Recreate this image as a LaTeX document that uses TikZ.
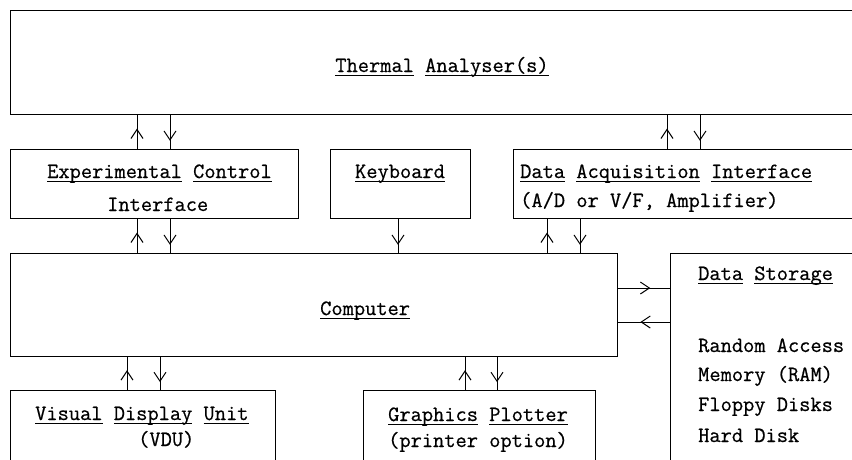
\documentclass[tikz,border=0pt]{standalone}
\usepackage{fontspec}
\newfontfamily\tw[FakeBold=0.6]{Latin Modern Mono}
\usetikzlibrary{arrows.meta,decorations.markings}
\newlength\ulwd
\newcommand\ulw[1]{\settowidth\ulwd{#1}\rlap{\rule[-4pt]{\ulwd}{1pt}}#1}
\tikzset{
  box/.style={draw, line width=1pt, inner sep=0pt, anchor=north west},
  lbl/.style={inner sep=0pt, anchor=base west, font=\tw\fontsize{21.8}{22}\selectfont},
  conn/.style={line width=1pt},
  tipmark/.style={postaction={decorate}, decoration={markings,
     mark=at position #1 with {\arrow{Straight Barb[length=9pt,width=12pt]}}}},
  uparr/.style={conn, tipmark=0.6},
  dnarr/.style={conn, tipmark=0.76},
  rtarr/.style={conn, tipmark=0.62},
  ltarr/.style={conn, tipmark=0.57},
}
\begin{document}
\begin{tikzpicture}[x=1pt,y=-1pt]
\useasboundingbox (0,0) rectangle (852,459);
\clip (0,0) rectangle (852,459);

% boxes
\node[box, minimum width=864pt, minimum height=104pt] (thermal) at (10,10) {};
\node[box, minimum width=288pt, minimum height=69pt] (eci) at (10,149) {};
\node[box, minimum width=140pt, minimum height=69pt] (kbd) at (330,149) {};
\node[box, minimum width=360pt, minimum height=69pt] (dai) at (513,149) {};
\node[box, minimum width=607pt, minimum height=103pt] (comp) at (10,253) {};
\node[box, minimum width=200pt, minimum height=230pt] (store) at (670,253) {};
\node[box, minimum width=265pt, minimum height=90pt] (vdu) at (10,390) {};
\node[box, minimum width=232pt, minimum height=90pt] (plot) at (363,390) {};

% texts
\node[lbl, anchor=base] (tThermal) at (442,72) {\ulw{Thermal} \ulw{Analyser(s)}};
\node[lbl] (tEci1) at (47,178) {\ulw{Experimental} \ulw{Control}};
\node[lbl] (tEci2) at (107,211) {Interface};
\node[lbl, anchor=base] (tKbd) at (400,178) {\ulw{Keyboard}};
\node[lbl] (tDai1) at (520,178) {\ulw{Data} \ulw{Acquisition} \ulw{Interface}};
\node[lbl] (tDai2) at (520,207) {(A/D or V/F, Amplifier)};
\node[lbl] (tComp) at (320,315) {\ulw{Computer}};
\node[lbl] (tStore) at (698,280) {\ulw{Data} \ulw{Storage}};
\node[lbl] (tRam1) at (698,352) {Random Access};
\node[lbl] (tRam2) at (698,381) {Memory (RAM)};
\node[lbl] (tFlop) at (698,411) {Floppy Disks};
\node[lbl] (tHard) at (698,442) {Hard Disk};
\node[lbl] (tVdu1) at (35,420) {\ulw{Visual} \ulw{Display} \ulw{Unit}};
\node[lbl] (tVdu2) at (138,446) {(VDU)};
\node[lbl] (tPlot1) at (388,421) {\ulw{Graphics} \ulw{Plotter}};
\node[lbl] (tPlot2) at (388,447) {(printer option)};

% guide coordinates for connector positions
\coordinate (xa) at (137,0);
\coordinate (xb) at (170,0);
\coordinate (xc) at (667,0);
\coordinate (xd) at (700,0);
\coordinate (xk) at (398,0);
\coordinate (xe) at (547,0);
\coordinate (xf) at (580,0);
\coordinate (xg) at (127,0);
\coordinate (xh) at (160,0);
\coordinate (xi) at (465,0);
\coordinate (xj) at (497,0);
\coordinate (ya) at (0,288);
\coordinate (yb) at (0,322);

% thermal <-> interfaces
\draw[uparr] (eci.north -| xa) -- (thermal.south -| xa);
\draw[dnarr] (thermal.south -| xb) -- (eci.north -| xb);
\draw[uparr] (dai.north -| xc) -- (thermal.south -| xc);
\draw[dnarr] (thermal.south -| xd) -- (dai.north -| xd);

% interfaces <-> computer
\draw[uparr] (comp.north -| xa) -- (eci.south -| xa);
\draw[dnarr] (eci.south -| xb) -- (comp.north -| xb);
\draw[dnarr] (kbd.south -| xk) -- (comp.north -| xk);
\draw[uparr] (comp.north -| xe) -- (dai.south -| xe);
\draw[dnarr] (dai.south -| xf) -- (comp.north -| xf);

% computer <-> storage
\draw[rtarr] (comp.east |- ya) -- (store.west |- ya);
\draw[ltarr] (store.west |- yb) -- (comp.east |- yb);

% computer <-> outputs
\draw[uparr] (vdu.north -| xg) -- (comp.south -| xg);
\draw[dnarr] (comp.south -| xh) -- (vdu.north -| xh);
\draw[uparr] (plot.north -| xi) -- (comp.south -| xi);
\draw[dnarr] (comp.south -| xj) -- (plot.north -| xj);
\end{tikzpicture}
\end{document}
